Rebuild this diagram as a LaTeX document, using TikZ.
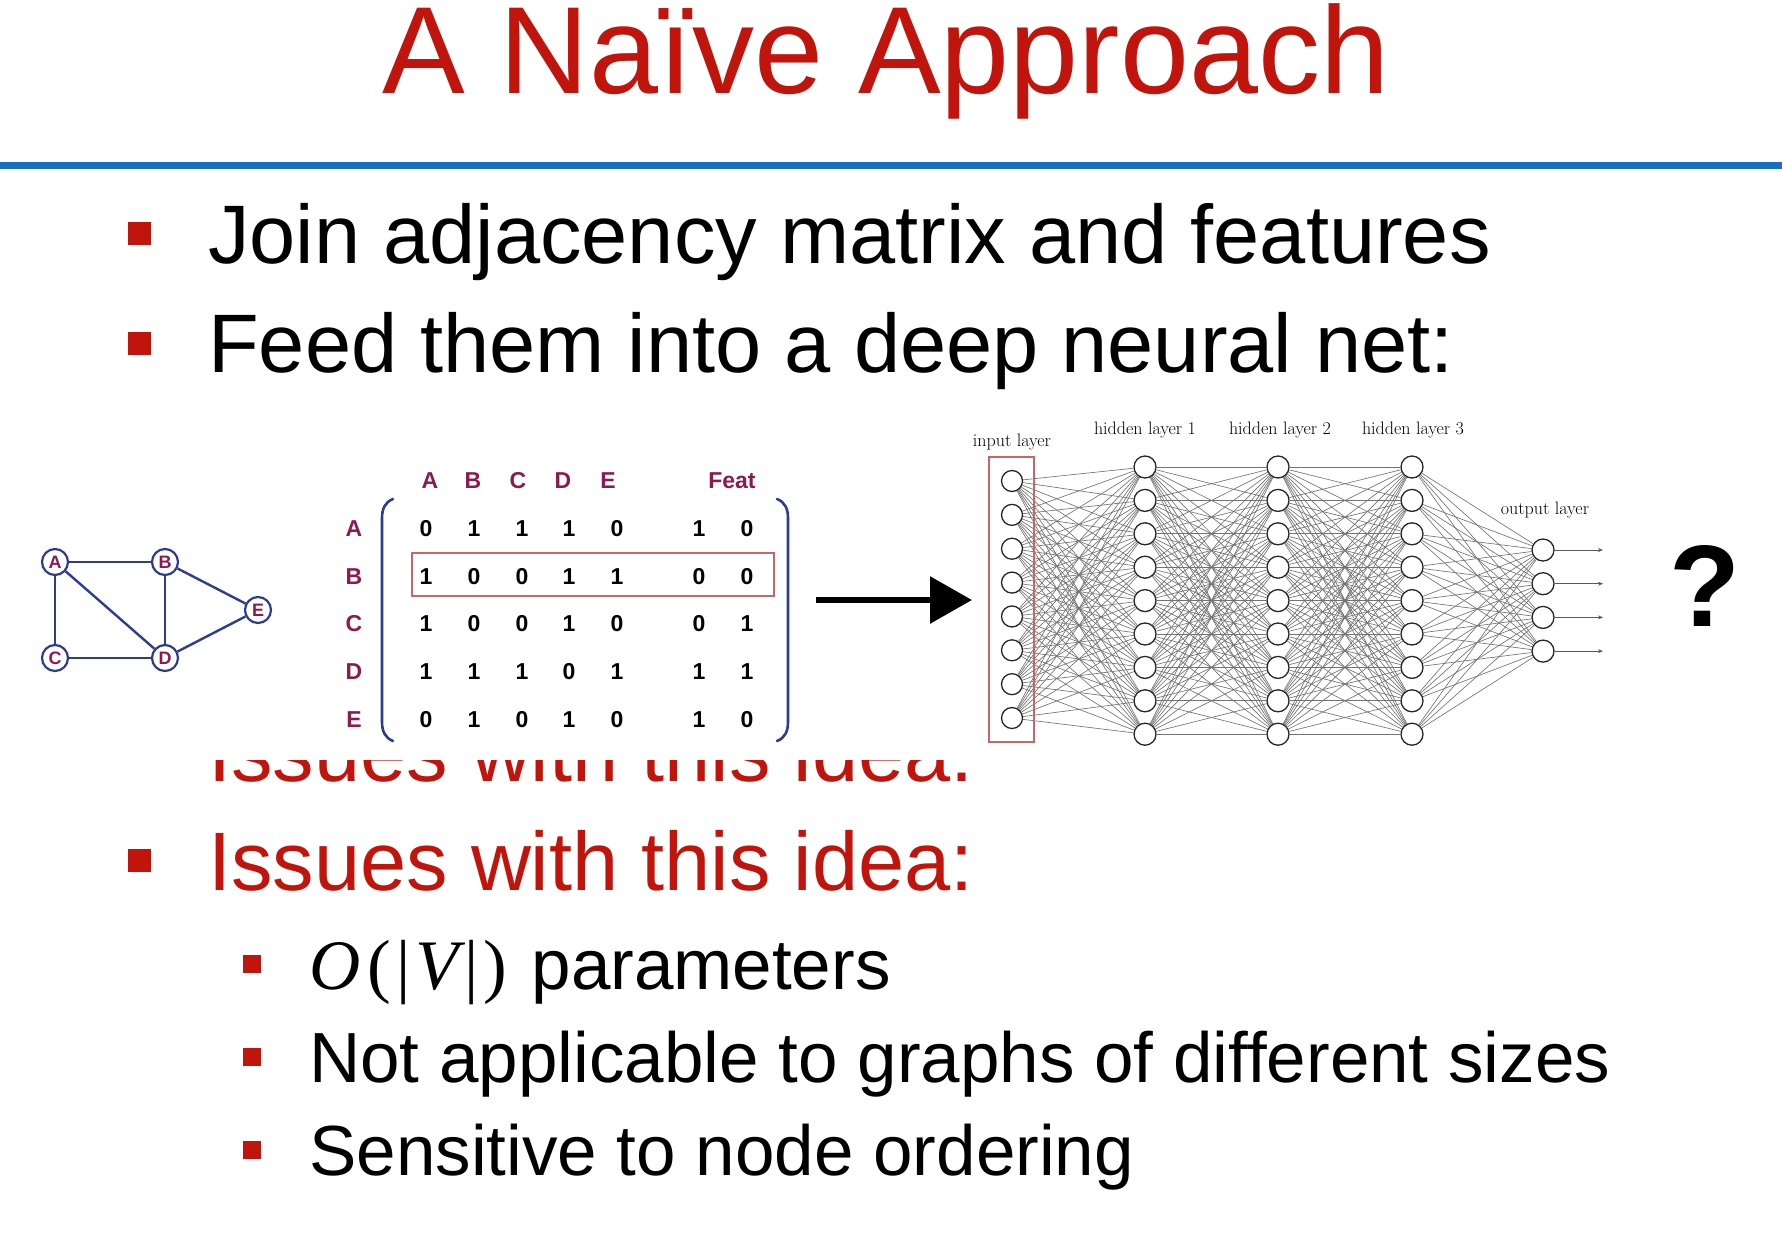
\documentclass[tikz,border=0pt]{standalone}
\usepackage{fontspec}
\newfontfamily\arial{Liberation Sans}
\newfontfamily\tnr{Liberation Serif}
\usetikzlibrary{arrows.meta,backgrounds}
\definecolor{titlered}{RGB}{192,20,12}
\definecolor{rulblue}{RGB}{22,112,192}
\definecolor{gblue}{RGB}{45,60,145}
\definecolor{maroon}{RGB}{140,25,80}
\definecolor{boxred}{RGB}{205,100,100}
\tikzset{
  bulletsq/.style={fill=titlered, draw=none, minimum size=23pt, inner sep=0pt},
  subsq/.style={fill=titlered, draw=none, minimum size=18pt, inner sep=0pt},
  lvlone/.style={anchor=base west, inner sep=0pt, font=\arial\fontsize{83}{90}\selectfont},
  lvltwo/.style={anchor=base west, inner sep=0pt, font=\arial\fontsize{71}{80}\selectfont},
  gnode/.style={circle, draw=gblue, line width=2.2pt, fill=white, minimum size=26pt, inner sep=0pt, font=\arial\bfseries\fontsize{18}{18}\selectfont, text=maroon},
  gedge/.style={gblue, line width=2.4pt},
  mnum/.style={font=\arial\bfseries\fontsize{23}{23}\selectfont, inner sep=0pt},
  mhead/.style={mnum, text=maroon},
  neuron/.style={circle, draw=black!85, line width=1.3pt, fill=white, minimum size=22pt, inner sep=0pt},
  conn/.style={black!55, line width=0.65pt},
  nnlabel/.style={font=\fontsize{18}{18}\selectfont, inner sep=0pt, anchor=base}
}
\begin{document}
\begin{tikzpicture}[x=1pt,y=-1pt]
\useasboundingbox (0,0) rectangle (1782,1248);
\begin{scope}[on background layer]
\fill[white] (0,0) rectangle (1782,1248);
\end{scope}

% title and rule
\node[anchor=base, inner sep=0pt, text=titlered, font=\arial\fontsize{124}{130}\selectfont] (title) at (886,93) {A Naïve Approach};
\draw[rulblue, line width=7pt] (0,165.5) -- (1782,165.5);

% bullets
\node[bulletsq] (b1) at (139.5,233.5) {};
\node[lvlone] (t1) at (208,263) {Join adjacency matrix and features};
\node[bulletsq] (b2) at (139.5,343) {};
\node[lvlone] (t2) at (208,372) {Feed them into a deep neural net:};

% ghost of clipped issues line
\begin{scope}
\clip (0,760) rectangle (1782,800);
\node[lvlone, text=titlered] (ghost) at (208,781) {Issues with this idea:};
\end{scope}

\node[bulletsq] (b3) at (139.5,860) {};
\node[lvlone, text=titlered] (t3) at (208,890) {Issues with this idea:};
\node[subsq] (s1) at (252,964) {};
\node[lvltwo] (u1) at (309,989) {{\tnr\itshape O}\kern7pt{\tnr(\kern5pt|\kern5pt}{\tnr\itshape V\kern6pt}{\tnr|\kern5pt)}\hspace*{24pt}parameters};
\node[subsq] (s2) at (252,1057) {};
\node[lvltwo] (u2) at (309,1082) {Not applicable to graphs of different sizes};
\node[subsq] (s3) at (252,1150) {};
\node[lvltwo] (u3) at (309,1175) {Sensitive to node ordering};

% graph
\node[gnode] (gA) at (55,562) {A};
\node[gnode] (gB) at (165,562) {B};
\node[gnode] (gE) at (258,610) {E};
\node[gnode] (gC) at (55,658) {C};
\node[gnode] (gD) at (165,658) {D};
\begin{scope}[on background layer]
\draw[gedge] (gA) -- (gB);
\draw[gedge] (gA) -- (gC);
\draw[gedge] (gA) -- (gD);
\draw[gedge] (gB) -- (gD);
\draw[gedge] (gB) -- (gE);
\draw[gedge] (gC) -- (gD);
\draw[gedge] (gD) -- (gE);
\end{scope}

% matrix headers
\foreach \l/\x in {A/430,B/473,C/518,D/563,E/608}{
  \node[mhead] (h\l) at (\x,481) {\l};
}
\node[mhead] (hFeat) at (732,481) {Feat};
% row labels and entries
\foreach \r/\y/\vals in {A/529/{0,1,1,1,0,1,0}, B/577/{1,0,0,1,1,0,0}, C/624/{1,0,0,1,0,0,1}, D/672/{1,1,1,0,1,1,1}, E/720/{0,1,0,1,0,1,0}}{
  \node[mhead] (r\r) at (354,\y) {\r};
  \foreach \v [count=\c] in \vals {
    \pgfmathsetmacro\xx{{426,474,522,569,617,699,747}[\c-1]}
    \node[mnum] (m\r\c) at (\xx,\y) {\v};
  }
}
% brackets
\draw[gblue, line width=2.6pt, line cap=round] (393,499) .. controls (385,502) and (382,509) .. (382,518) -- (382,722) .. controls (382,731) and (385,738) .. (393,741);
\draw[gblue, line width=2.6pt, line cap=round] (777,499) .. controls (785,502) and (788,509) .. (788,518) -- (788,722) .. controls (788,731) and (785,738) .. (777,741);
% highlighted row
\node[draw=boxred, line width=2.2pt, minimum width=362pt, minimum height=43pt, inner sep=0pt] (rowbox) at (593,574.5) {};

% big arrow
\coordinate (arrS) at (816,600);
\coordinate (arrE) at (972,600);
\draw[line width=6pt, -{Triangle[length=42pt,width=46pt]}] (arrS) -- (arrE);

% neural network
\foreach \i in {1,...,8}{
  \node[neuron, minimum size=21pt] (in\i) at (1012,{481+(\i-1)*33.86}) {};
}
\foreach \L/\x in {1/1145,2/1278,3/1412}{
  \foreach \i in {1,...,9}{
    \node[neuron] (h\L-\i) at (\x,{467+(\i-1)*33.4}) {};
  }
}
\foreach \i in {1,...,4}{
  \node[neuron] (out\i) at (1543,{550+(\i-1)*33.7}) {};
  \coordinate (oa\i) at (1603,{550+(\i-1)*33.7});
  \draw[black!65, line width=1pt, -{Stealth[length=5pt,width=4pt]}] (out\i) -- (oa\i);
}
\begin{scope}[on background layer]
\foreach \i in {1,...,8}{\foreach \j in {1,...,9}{\draw[conn] (in\i) -- (h1-\j);}}
\foreach \i in {1,...,9}{\foreach \j in {1,...,9}{\draw[conn] (h1-\i) -- (h2-\j); \draw[conn] (h2-\i) -- (h3-\j);}}
\foreach \i in {1,...,9}{\foreach \j in {1,...,4}{\draw[conn] (h3-\i) -- (out\j);}}
\end{scope}
\node[draw=boxred, line width=2pt, minimum width=45pt, minimum height=285pt, inner sep=0pt] (inbox) at (1011.5,599.5) {};

\node[nnlabel] (lin) at (1012,446) {input layer};
\node[nnlabel] (lh1) at (1145,434) {hidden layer 1};
\node[nnlabel] (lh2) at (1280,434) {hidden layer 2};
\node[nnlabel] (lh3) at (1413,434) {hidden layer 3};
\node[nnlabel] (lout) at (1545,514) {output layer};

% question mark
\node[anchor=base, inner sep=0pt, font=\arial\bfseries\fontsize{116}{116}\selectfont] (qmark) at (1705,626) {?};
\end{tikzpicture}
\end{document}
